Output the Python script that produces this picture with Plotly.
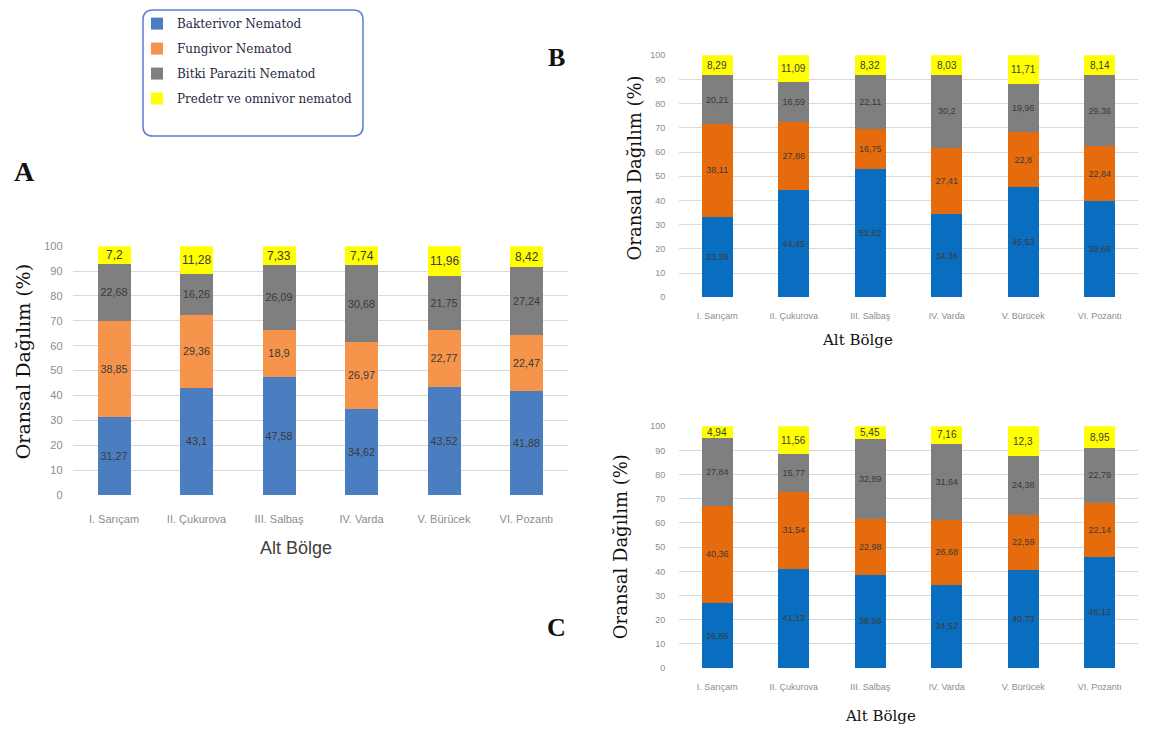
import plotly.graph_objects as go

categories = ["I. Sarıçam", "II. Çukurova", "III. Salbaş", "IV. Varda", "V. Bürücek", "VI. Pozantı"]
series_names = ["Bakterivor Nematod", "Fungivor Nematod", "Bitki Paraziti Nematod", "Predetr ve omnivor nematod"]

# Panel A
a_bakterivor = [31.27, 43.1, 47.58, 34.62, 43.52, 41.88]
a_fungivor = [38.85, 29.36, 18.9, 26.97, 22.77, 22.47]
a_bitki = [22.68, 16.26, 26.09, 30.68, 21.75, 27.24]
a_predator = [7.2, 11.28, 7.33, 7.74, 11.96, 8.42]

# Panel B
b_bakterivor = [33.39, 44.45, 52.82, 34.36, 45.53, 39.66]
b_fungivor = [38.11, 27.86, 16.75, 27.41, 22.8, 22.84]
b_bitki = [20.21, 16.59, 22.11, 30.2, 19.96, 29.36]
b_predator = [8.29, 11.09, 8.32, 8.03, 11.71, 8.14]

# Panel C
c_bakterivor = [26.86, 41.13, 38.68, 34.52, 40.73, 46.12]
c_fungivor = [40.36, 31.54, 22.98, 26.68, 22.59, 22.14]
c_bitki = [27.84, 15.77, 32.89, 31.64, 24.38, 22.79]
c_predator = [4.94, 11.56, 5.45, 7.16, 12.3, 8.95]

y_ticks = list(range(0, 101, 10))

# page has an 8px body margin; figure occupies (8,8)-(1149,745)
OFF = 8
W, H = 1149 - OFF, 745 - OFF
def px(x):
    return (x - OFF) / W
def py(y):
    return 1 - (y - OFF) / H

def fmt(vals):
    return [f"{v:g}".replace(".", ",") for v in vals]

colors_a = ["#4A7EC0", "#F5944A", "#7F7F7F", "#FFFF00"]
colors_bc = ["#0A6EC0", "#E56B0C", "#7F7F7F", "#FFFF00"]

fig = go.Figure()

panels = [
    ("x", "y", [a_bakterivor, a_fungivor, a_bitki, a_predator], colors_a, 11, 12, True),
    ("x2", "y2", [b_bakterivor, b_fungivor, b_bitki, b_predator], colors_bc, 9, 10, False),
    ("x3", "y3", [c_bakterivor, c_fungivor, c_bitki, c_predator], colors_bc, 9, 10, False),
]

for xa, ya, data, cols, fs, pfs, show in panels:
    for i, (name, vals) in enumerate(zip(series_names, data)):
        is_pred = (i == 3)
        fig.add_trace(go.Bar(
            x=categories, y=vals, name=name, xaxis=xa, yaxis=ya,
            marker=dict(color=cols[i], line=dict(width=0)),
            text=None if is_pred else fmt(vals),
            textposition="none" if is_pred else "inside", insidetextanchor="middle",
            textangle=0, textfont=dict(size=fs, color="#3A3A3A", family="Liberation Sans"),
            showlegend=show, legendgroup=name, width=0.4,
        ))
    # predator labels centred in the top (yellow) segment
    base = [a + b + c for a, b, c in zip(data[0], data[1], data[2])]
    for cat, b0, pv, t in zip(categories, base, data[3], fmt(data[3])):
        fig.add_annotation(x=cat, y=b0 + pv / 2, xref=xa, yref=ya, text=t, showarrow=False,
                           font=dict(size=pfs, color="#3A3A3A", family="Liberation Sans"),
                           xanchor="center", yanchor="middle")

common_y = dict(range=[0, 100], tickvals=y_ticks, showgrid=True, gridcolor="#D9D9D9",
                gridwidth=1, zeroline=False, showline=False, ticks="outside",
                tickcolor="rgba(0,0,0,0)", fixedrange=True)
common_x = dict(showgrid=False, showline=False, zeroline=False, ticks="outside",
                tickcolor="rgba(0,0,0,0)", fixedrange=True)

fig.update_layout(
    width=W, height=H, margin=dict(l=0, r=0, t=0, b=0),
    paper_bgcolor="white", plot_bgcolor="white", barmode="stack", bargap=0.6,
    xaxis=dict(domain=[px(72.75), px(567.75)], anchor="y", ticklen=14,
               tickfont=dict(size=11, color="#8C8C8C", family="Liberation Sans"), **common_x),
    yaxis=dict(domain=[py(497), py(244)], anchor="x", ticklen=7,
               tickfont=dict(size=11, color="#8C8C8C", family="Liberation Sans"), **common_y),
    xaxis2=dict(domain=[px(679), px(1138)], anchor="y2", ticklen=10,
                tickfont=dict(size=9, color="#8C8C8C", family="Liberation Sans"), **common_x),
    yaxis2=dict(domain=[py(296), py(50)], anchor="x2", ticklen=11,
                tickfont=dict(size=9, color="#8C8C8C", family="Liberation Sans"), **common_y),
    xaxis3=dict(domain=[px(679), px(1138)], anchor="y3", ticklen=10,
                tickfont=dict(size=9, color="#8C8C8C", family="Liberation Sans"), **common_x),
    yaxis3=dict(domain=[py(673), py(427)], anchor="x3", ticklen=11,
                tickfont=dict(size=9, color="#8C8C8C", family="Liberation Sans"), **common_y),
    legend=dict(x=px(137), y=py(3), xanchor="left", yanchor="top",
                bgcolor="rgba(0,0,0,0)", borderwidth=0, traceorder="grouped",
                tracegroupgap=6, font=dict(family="DejaVu Serif", size=12, color="#1F2A44")),
)

# Rounded legend frame
x0, x1, y0, y1 = 143, 363, 4, 132
r = 10
path = (f"M {px(x0 + r)} {py(y0)} L {px(x1 - r)} {py(y0)} Q {px(x1)} {py(y0)} {px(x1)} {py(y0 + r)} "
        f"L {px(x1)} {py(y1 - r)} Q {px(x1)} {py(y1)} {px(x1 - r)} {py(y1)} "
        f"L {px(x0 + r)} {py(y1)} Q {px(x0)} {py(y1)} {px(x0)} {py(y1 - r)} "
        f"L {px(x0)} {py(y0 + r)} Q {px(x0)} {py(y0)} {px(x0 + r)} {py(y0)} Z")
fig.add_shape(type="path", path=path, xref="paper", yref="paper",
              line=dict(color="#5B7FD0", width=1.5), fillcolor="rgba(0,0,0,0)")

def ann(text, x, y, size, family, color="#222222", angle=0, bold=False):
    fig.add_annotation(text=f"<b>{text}</b>" if bold else text, x=px(x), y=py(y),
                       xref="paper", yref="paper", showarrow=False, textangle=angle,
                       font=dict(size=size, family=family, color=color),
                       xanchor="center", yanchor="middle")

# Panel letters
ann("A", 24, 168, 28, "Liberation Serif", "#111111", bold=True)
ann("B", 556, 52, 26, "Liberation Serif", "#111111", bold=True)
ann("C", 556, 632, 26, "Liberation Serif", "#111111", bold=True)

# Axis titles
ann("Oransal Dağılım (%)", 23, 362, 19, "DejaVu Serif", "#111111", angle=-90)
ann("Oransal Dağılım (%)", 634, 165, 18, "DejaVu Serif", "#111111", angle=-90)
ann("Oransal Dağılım (%)", 620, 550, 18, "DejaVu Serif", "#111111", angle=-90)
ann("Alt Bölge", 296, 551, 18, "Liberation Sans", "#404040")
ann("Alt Bölge", 858, 339, 15, "DejaVu Serif", "#111111")
ann("Alt Bölge", 880, 722, 15, "DejaVu Serif", "#111111")

fig.write_html("out.html")
